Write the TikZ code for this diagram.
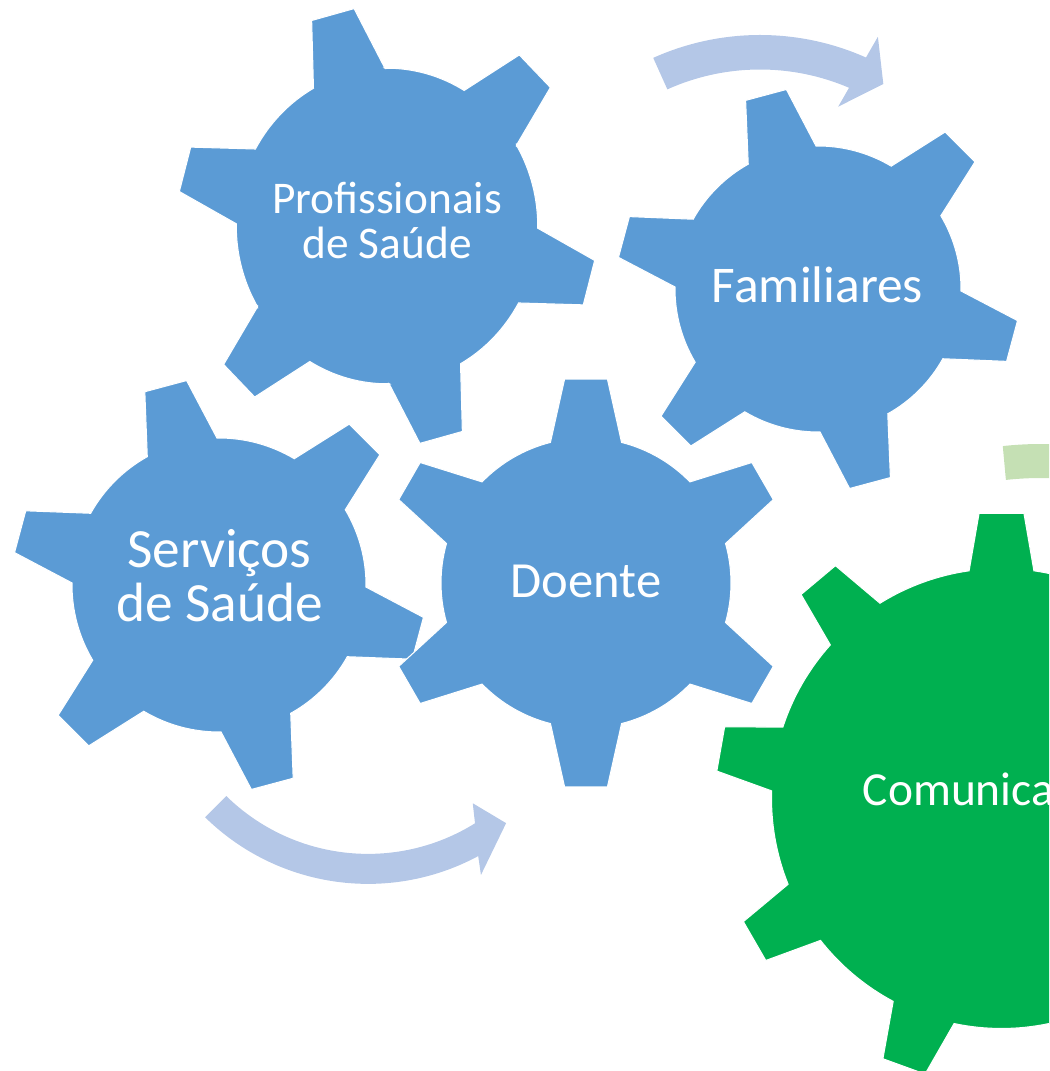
\documentclass[tikz,border=0pt]{standalone}
\usepackage{fontspec}
\setmainfont{Carlito}
\definecolor{gearblue}{RGB}{91,155,213}
\definecolor{geargreen}{RGB}{0,176,80}
\definecolor{arrowblue}{RGB}{180,199,231}
\definecolor{arrowgreen}{RGB}{197,224,180}

\begin{document}
\begin{tikzpicture}[x=0.02cm, y=0.02cm,
    gear/.style={fill=gearblue, draw=white, line width=0.6pt},
    bigwheel/.style={fill=geargreen, draw=white, line width=0.6pt},
    turn/.style={fill=arrowblue},
    turngreen/.style={fill=arrowgreen},
    gearlabel/.style={text=white, inner sep=0pt, align=center},
]
    \useasboundingbox (0,0) rectangle (1049,1071);
    \clip (0,0) rectangle (1049,1071);

    % Curved arrows
    \fill[turn, shift={(760,775.5)}] (114.2:260.5) arc[start angle=114.2, end angle=66, radius=260.5]
        -- (65.5:284.3) -- (59.75:244.8) -- (67.5:204.4) -- (66.8:226)
        arc[start angle=66.8, end angle=114.2, radius=226] -- cycle;
    \fill[turn, shift={(368,419.6)}] (-134.5:232.5) arc[start angle=-134.5, end angle=-61.7, radius=232.5]
        -- (-63.2:250.5) -- (-51.2:220.4) -- (-55.4:184.5) -- (-58.1:202.5)
        arc[start angle=-58.1, end angle=-134.4, radius=202.5] -- cycle;
    \fill[turngreen, shift={(1041,273)}] (96.2:354) arc[start angle=96.2, end angle=75, radius=354]
        -- (75:320) arc[start angle=75, end angle=96.3, radius=320] -- cycle;

    % Blue gears (six teeth)
    \foreach \cx/\cy/\R/\T/\rot/\sx/\sy in {387/845/157/219/105/0.96/1.005, 818/782/143/202/105/1/1,
                                          219/486/147/207/105/1/1, 586/488/145/205/90/1/1} {
        \fill[gear, shift={(\cx,\cy)}, xscale=\sx, yscale=\sy] ({\rot-14.2}:\R)
            \foreach \a in {0,60,...,300} {
                -- ({\rot+\a-14.2}:\R) -- ({\rot+\a-6}:\T) -- ({\rot+\a+6}:\T) -- ({\rot+\a+14.2}:\R)
                arc[start angle={\rot+\a+14.2}, end angle={\rot+\a+45.8}, radius=\R]
            } -- cycle;
    }

    % Green gear (nine teeth)
    \fill[bigwheel, shift={(1001.5,272.5)}] (81.9:230)
        \foreach \a in {0,40,...,320} {
            -- ({90+\a-8.1}:230) -- ({90+\a-4.5}:286) -- ({90+\a+4.5}:286) -- ({90+\a+8.1}:230)
            arc[start angle={90+\a+8.1}, end angle={90+\a+31.9}, radius=230]
        } -- cycle;

    % Labels
    \node[gearlabel, anchor=base, font=\fontsize{25.8}{25.9}\selectfont] (prof) at (387,812) {Profissionais\\de Saúde};
    \node[gearlabel, anchor=base, font=\fontsize{29.3}{31}\selectfont] (fam) at (817.5,768.3) {Familiares};
    \node[gearlabel, anchor=base, font=\fontsize{31.5}{31.2}\selectfont] (serv) at (219.5,449) {Serviços\\de Saúde};
    \node[gearlabel, anchor=base, font=\fontsize{28.8}{31}\selectfont] (doente) at (586,473.3) {Doente};
    \node[gearlabel, anchor=base west, font=\fontsize{27}{29}\selectfont] (com) at (862.5,265) {Comunicação};
\end{tikzpicture}
\end{document}
